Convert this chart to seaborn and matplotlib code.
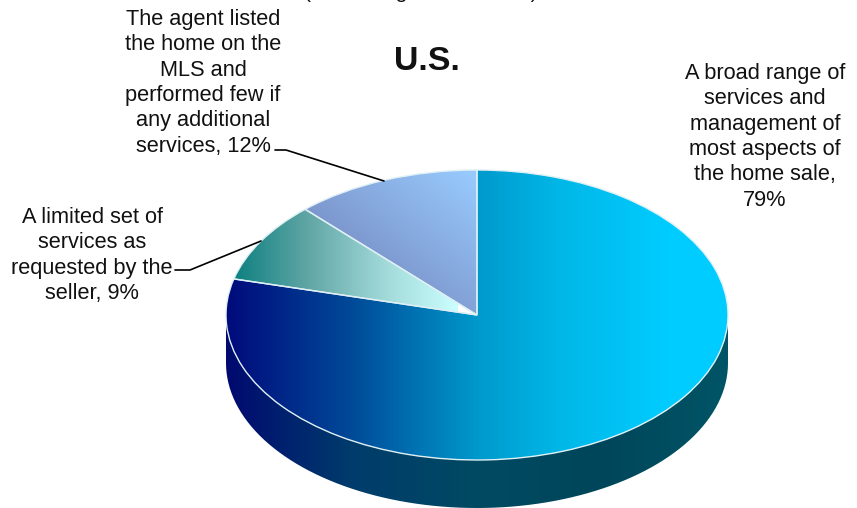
# Level of service pie, drawn flat and tilted to look like a 3D disc
import numpy as np
import matplotlib.pyplot as plt
import seaborn as sns
from matplotlib.colors import LinearSegmentedColormap
from matplotlib.patches import Polygon
from matplotlib.transforms import Affine2D

W, H = 857, 508

labels = [
    "A broad range of\nservices and\nmanagement of\nmost aspects of\nthe home sale,\n79%",
    "A limited set of\nservices as\nrequested by the\nseller, 9%",
    "The agent listed\nthe home on the\nMLS and\nperformed few if\nany additional\nservices, 12%",
]
shares = [79, 9, 12]
title = "U.S."
subtitle = "(Percentage Distribution)"

sns.set_theme(style="white")
plt.rcParams["font.family"] = ["Liberation Sans", "DejaVu Sans"]

# ellipse of the pie top in pixels
cx, cy, rx, ry = 477, 315, 251, 145
depth = 48 / ry

fig = plt.figure(figsize=(W / 100, H / 100), dpi=100)
ax = fig.add_axes([0, 0, 1, 1])

wedges, _ = ax.pie(shares, startangle=90, counterclock=False,
                   wedgeprops=dict(facecolor="none", edgecolor="#dff0f4", linewidth=1, zorder=5))
ax.set_aspect("auto")
ax.axis("off")

# horizontal ramp for the big slice and the rim, two-way ramp for the small ones
ramp_h = np.linspace(0, 1, 512).reshape(1, -1)
v, u = np.mgrid[0:1:256j, 0:1:256j]
ramp_diag = (u + v) / 2

cmap_big = LinearSegmentedColormap.from_list("big", [(0, "#000a7c"), (0.25, "#004a98"), (0.5, "#0099cc"),
                                                     (0.67, "#00b8e8"), (0.88, "#00ccff"), (1, "#00ccff")])
cmap_mid = LinearSegmentedColormap.from_list("mid", ["#0e8080", "#62a6a6", "#a0d8d8", "#ccffff"])
cmap_small = LinearSegmentedColormap.from_list("small", ["#6c78b0", "#99ccff"])
cmap_rim = LinearSegmentedColormap.from_list("rim", ["#000a70", "#003c6c", "#004a62", "#00465a", "#005566"])

def fill(patch, data, cmap, extent, z=2):
    im = ax.imshow(data, cmap=cmap, extent=extent, origin="lower", aspect="auto",
                   vmin=0, vmax=1, interpolation="bilinear", zorder=z)
    im.set_clip_path(patch)

# side of the disc
theta = np.radians(np.arange(180, 361, 2))
rim_pts = np.column_stack([
    np.r_[np.cos(theta), np.cos(theta[::-1])],
    np.r_[np.sin(theta), np.sin(theta[::-1]) - depth],
])
rim = Polygon(rim_pts, closed=True, facecolor="none", edgecolor="none", transform=ax.transData)
ax.add_patch(rim)
fill(rim, ramp_h, cmap_rim, (-1, 1, -1 - depth, 0), z=1)

fill(wedges[0], ramp_h, cmap_big, (-1, 1, -1, 1))
fill(wedges[1], ramp_h, cmap_mid, (-0.97, -0.08, -0.05, 0.75))
fill(wedges[2], ramp_diag, cmap_small, (-0.68, 0, 0, 1))

ax.set_xlim(-cx / rx, (W - cx) / rx)
ax.set_ylim((cy - H) / ry, cy / ry)

# text and leader lines are placed in image pixels, y going down
px = Affine2D().scale(1, -1).translate(0, H)

text_style = dict(transform=px, fontsize=15.7, color="#111111", ha="center", va="top", linespacing=1.27)
ax.text(765, 63, labels[0], **text_style)
ax.text(92, 207, labels[1], **text_style)
ax.text(203, 9, labels[2], **text_style)

ax.text(427, 61, title, transform=px, fontsize=24.4, fontweight="bold", color="#111111",
        ha="center", va="center")
ax.text(421, -2, subtitle, transform=px, fontsize=15.2, color="#111111", ha="center", va="baseline",
        clip_on=False)

ax.plot([275, 286, 384], [150, 150, 181], transform=px, color="black", lw=1.2, zorder=6)
ax.plot([175, 190, 261], [270, 270, 241], transform=px, color="black", lw=1.2, zorder=6)

fig.savefig("out.png", dpi=100, facecolor="white")
